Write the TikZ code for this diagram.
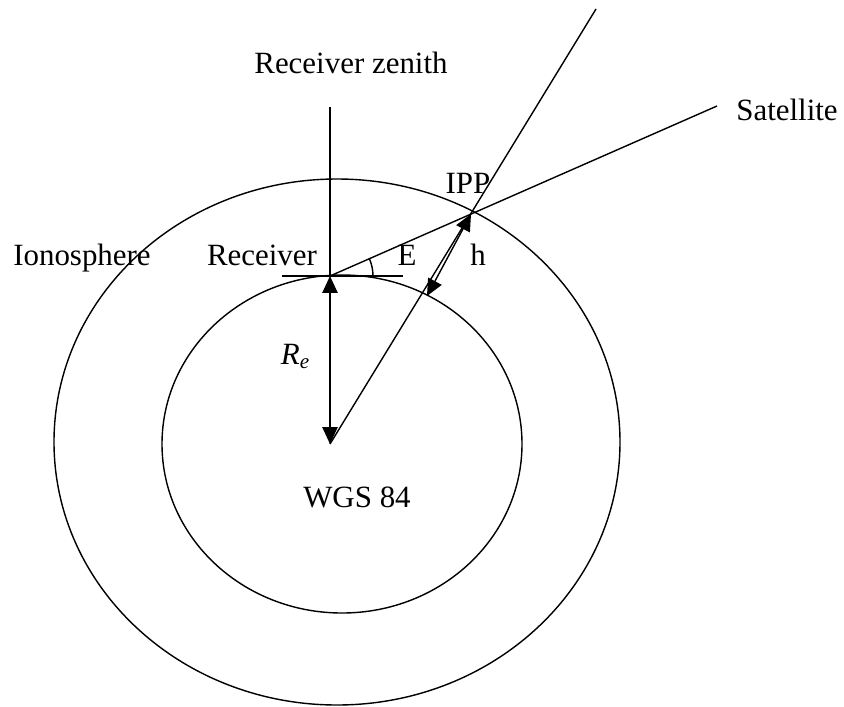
\documentclass[tikz,border=0pt]{standalone}
\usepackage{fontspec}
\setmainfont{Liberation Serif}
\usetikzlibrary{arrows.meta}

\tikzset{
  line/.style={line width=1pt},
  tip/.style={-{Triangle[length=0.42cm,width=0.38cm]}},
  tiptwo/.style={{Triangle[length=0.42cm,width=0.38cm]}-{Triangle[length=0.42cm,width=0.38cm]}},
  lbl/.style={anchor=base,inner sep=0pt}
}

\begin{document}
\begin{tikzpicture}[x=0.025cm,y=-0.025cm,font=\fontsize{22}{26}\selectfont]
 			\useasboundingbox (0,0) rectangle (844,706);
 			% earth and ionosphere
 			\draw[line] (342,444) ellipse [x radius=180, y radius=169];
 			\draw[line] (337,442) ellipse [x radius=283, y radius=263];
 			% points
 			\coordinate (rcv) at (330,276);
 			\coordinate (ctr) at (330,444);
 			\coordinate (ipp) at (471,214);
 			\coordinate (zen) at (330,107);
 			\coordinate (sat) at (717,106);
 			\coordinate (top) at (596,9);
 			\coordinate (hend) at (427,296);
 			\coordinate (tanL) at (282,276);
 			\coordinate (tanR) at (403,276);
 			% lines
 			\draw[line] (zen) -- (rcv);
 			\draw[line] (tanL) -- (tanR);
 			\draw[line] (rcv) -- (sat);
 			\draw[line] (ctr) -- (top);
 			\draw[line,tiptwo] (rcv) -- (ctr);
 			\draw[line,tiptwo] (ipp) -- (hend);
 			\draw[line] (rcv) ++(43,0) arc[start angle=0, end angle=-24, radius=43];
 			% labels
 			\node[lbl] (zenith) at (351,73) {Receiver zenith};
 			\node[lbl] (satellite) at (787,120) {Satellite};
 			\node[lbl] (ippl) at (468,193) {IPP};
 			\node[lbl] (iono) at (82,265) {Ionosphere};
 			\node[lbl] (rcvl) at (262,265) {Receiver};
 			\node[lbl] (el) at (407,265) {E};
 			\node[lbl] (hl) at (478,265) {h};
 			\node[lbl] (re) at (295,364) {\itshape R\raisebox{-0.3ex}{\fontsize{15}{17}\selectfont e}};
 			\node[lbl] (wgs) at (357,507) {WGS 84};
\end{tikzpicture}
\end{document}
